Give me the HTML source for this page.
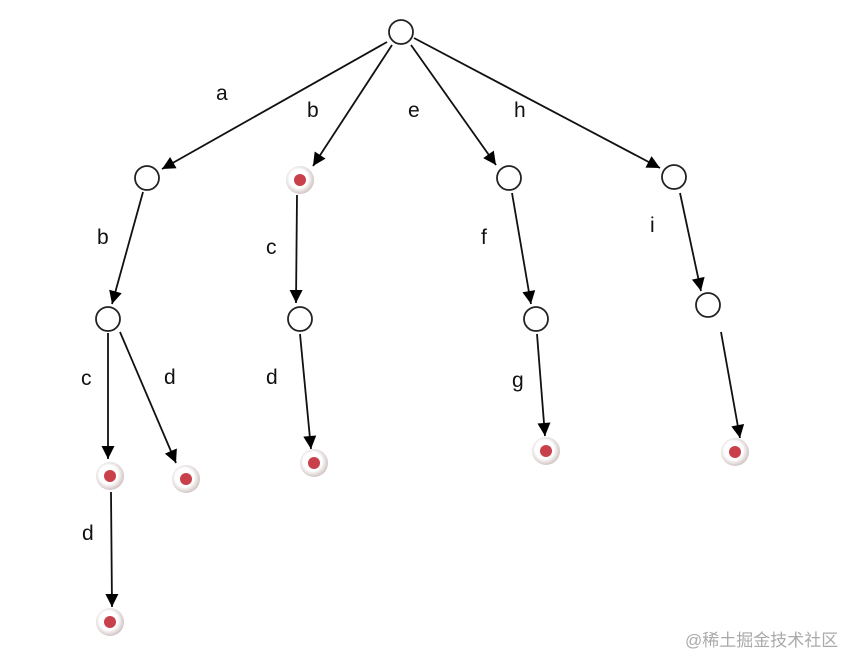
<!DOCTYPE html>
<html><head><meta charset="utf-8"><style>
html,body{margin:0;padding:0;background:#fff;width:853px;height:658px;overflow:hidden}
svg{display:block}
text{font-family:"Liberation Sans",sans-serif;font-size:21px;fill:#111}
.wm{font-family:"Liberation Sans","Noto Sans CJK SC",sans-serif;font-size:17px;fill:#aaa}
</style></head><body>
<svg width="853" height="658" viewBox="0 0 853 658">
<defs>
<marker id="ar" viewBox="0 0 10 10" refX="10" refY="5" markerWidth="9" markerHeight="9" markerUnits="userSpaceOnUse" orient="auto">
<path d="M0,0 L10,5 L0,10 z" fill="#000"/></marker>
<marker id="a2" viewBox="0 0 10 10" refX="10" refY="5" markerWidth="15" markerHeight="13" markerUnits="userSpaceOnUse" orient="auto">
<path d="M0,0 L10,5 L0,10 z" fill="#000"/></marker>
<radialGradient id="rg" cx="0.45" cy="0.45" r="0.6">
<stop offset="0.55" stop-color="#fff"/><stop offset="1" stop-color="#c9b8b8"/></radialGradient>
</defs>
<g stroke="#111" stroke-width="1.8" fill="none" marker-end="url(#a2)">
<line x1="387" y1="42" x2="162" y2="169"/>
<line x1="392" y1="45" x2="313" y2="166"/>
<line x1="411" y1="45" x2="496" y2="165"/>
<line x1="414" y1="38" x2="660" y2="168"/>
<line x1="143" y1="192" x2="112" y2="304"/>
<line x1="297" y1="195" x2="296" y2="303"/>
<line x1="512" y1="193" x2="531" y2="304"/>
<line x1="680" y1="193" x2="701" y2="291"/>
<line x1="108" y1="333" x2="108" y2="459"/>
<line x1="120" y1="332" x2="176" y2="463"/>
<line x1="300" y1="334" x2="311" y2="449"/>
<line x1="537" y1="334" x2="545" y2="436"/>
<line x1="721" y1="332" x2="740" y2="438"/>
<line x1="111" y1="492" x2="112" y2="607"/>
</g>
<g fill="#fff" stroke="#222" stroke-width="1.8">
<circle cx="401" cy="32" r="12"/>
<circle cx="147" cy="178" r="12"/>
<circle cx="509" cy="178" r="12"/>
<circle cx="674" cy="177" r="12"/>
<circle cx="108" cy="319" r="12"/>
<circle cx="300" cy="319" r="12"/>
<circle cx="536" cy="319" r="12"/>
<circle cx="708" cy="305" r="12"/>
</g>
<g>
<g transform="translate(300,180)"><circle r="14" fill="url(#rg)"/><circle r="6" fill="#c9404a"/></g>
<g transform="translate(110,476)"><circle r="14" fill="url(#rg)"/><circle r="6" fill="#c9404a"/></g>
<g transform="translate(186,479)"><circle r="14" fill="url(#rg)"/><circle r="6" fill="#c9404a"/></g>
<g transform="translate(314,463)"><circle r="14" fill="url(#rg)"/><circle r="6" fill="#c9404a"/></g>
<g transform="translate(546,451)"><circle r="14" fill="url(#rg)"/><circle r="6" fill="#c9404a"/></g>
<g transform="translate(735,452)"><circle r="14" fill="url(#rg)"/><circle r="6" fill="#c9404a"/></g>
<g transform="translate(110,622)"><circle r="14" fill="url(#rg)"/><circle r="6" fill="#c9404a"/></g>
</g>
<text x="216" y="100">a</text>
<text x="307" y="117">b</text>
<text x="408" y="117">e</text>
<text x="514" y="117">h</text>
<text x="97" y="244">b</text>
<text x="266" y="254">c</text>
<text x="481" y="244">f</text>
<text x="650" y="232">i</text>
<text x="81" y="385">c</text>
<text x="164" y="384">d</text>
<text x="266" y="384">d</text>
<text x="512" y="387">g</text>
<text x="82" y="540">d</text>
<text class="wm" x="685" y="646">@稀土掘金技术社区</text>
</svg>
</body></html>
